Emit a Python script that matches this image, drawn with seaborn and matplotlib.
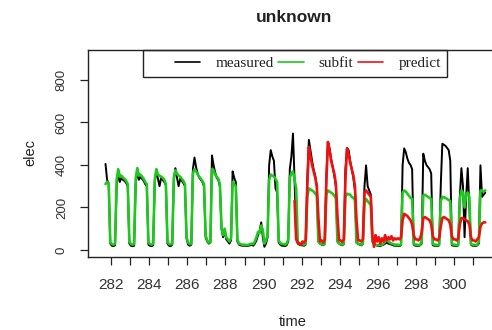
import numpy as np
import pandas as pd
import matplotlib
matplotlib.use("Agg")
import matplotlib.pyplot as plt
from matplotlib.patches import Rectangle
from matplotlib.lines import Line2D
import seaborn as sns

# ---- data: 2-hourly samples (12 per day) ----
slots_per_day = 12
meas_start = (281, 8)      # (day, slot) of first measured/subfit sample
pred_start = (291, 7)      # (day, slot) of first predict sample

measured = [
    405, 330, 310, 30,                                         # 281
    20, 18, 22, 300, 365, 320, 340, 330, 325, 315, 300, 30,    # 282
    20, 18, 20, 310, 380, 330, 345, 335, 325, 310, 300, 25,    # 283
    20, 18, 22, 320, 375, 335, 300, 340, 330, 320, 305, 30,    # 284
    20, 18, 25, 330, 385, 340, 300, 335, 325, 315, 300, 55,    # 285
    25, 20, 25, 380, 435, 390, 360, 340, 330, 320, 300, 60,    # 286
    40, 30, 35, 445, 400, 365, 340, 330, 300, 100, 60, 90,     # 287
    50, 40, 30, 45, 370, 340, 320, 40, 25, 22, 20, 20,         # 288
    20, 18, 20, 22, 25, 20, 30, 45, 70, 90, 130, 60,           # 289
    15, 30, 60, 400, 470, 440, 420, 290, 270, 35, 25, 20,      # 290
    20, 18, 22, 40, 380, 440, 548, 330, 60, 30, 25, 22,        # 291
    22, 20, 25, 330, 518, 470, 420, 380, 350, 300, 40, 30,     # 292
    25, 22, 28, 350, 508, 480, 430, 390, 350, 300, 40, 30,     # 293
    25, 22, 28, 380, 480, 470, 420, 380, 340, 280, 35, 28,     # 294
    25, 22, 28, 300, 398, 300, 280, 260, 40, 30, 25, 20,       # 295
    20, 18, 22, 25, 30, 35, 30, 28, 25, 22, 20, 20,            # 296
    20, 18, 22, 400, 478, 460, 430, 410, 400, 380, 25, 20,     # 297
    20, 18, 22, 30, 453, 420, 400, 390, 380, 360, 22, 20,      # 298
    20, 18, 22, 300, 500, 495, 490, 480, 470, 420, 22, 20,     # 299
    20, 18, 22, 250, 385, 300, 60, 250, 385, 200, 25, 20,      # 300
    20, 18, 22, 30, 398, 250, 260, 270,                        # 301
]

subfit = [
    310, 320, 315, 35,                                         # 281
    28, 25, 30, 330, 380, 345, 350, 340, 335, 325, 310, 40,    # 282
    28, 25, 28, 335, 385, 350, 355, 345, 335, 320, 310, 35,    # 283
    28, 25, 30, 330, 380, 355, 350, 345, 340, 330, 310, 40,    # 284
    28, 26, 30, 340, 375, 360, 350, 345, 335, 325, 310, 60,    # 285
    35, 28, 30, 360, 380, 370, 355, 345, 335, 325, 310, 70,    # 286
    45, 35, 35, 380, 375, 355, 345, 335, 310, 105, 70, 100,    # 287
    60, 50, 40, 55, 320, 310, 300, 50, 30, 28, 25, 25,         # 288
    25, 22, 25, 28, 30, 28, 40, 60, 85, 80, 115, 95,           # 289
    30, 45, 70, 330, 355, 350, 345, 335, 320, 45, 32, 28,      # 290
    28, 25, 30, 50, 340, 360, 370, 330, 290, 40, 30, 28,       # 291
    28, 25, 30, 250, 290, 285, 280, 275, 265, 255, 40, 30,     # 292
    28, 25, 30, 260, 280, 275, 270, 265, 255, 245, 40, 30,     # 293
    28, 25, 30, 250, 265, 262, 260, 250, 245, 235, 35, 30,     # 294
    28, 25, 30, 220, 240, 230, 220, 210, 40, 30, 25, 22,       # 295
    25, 22, 25, 30, 40, 45, 40, 35, 30, 28, 25, 25,            # 296
    25, 22, 25, 270, 280, 275, 265, 255, 245, 240, 30, 25,     # 297
    25, 22, 25, 40, 256, 260, 255, 250, 245, 240, 28, 25,      # 298
    25, 22, 25, 230, 250, 248, 245, 240, 235, 230, 28, 25,     # 299
    25, 22, 25, 240, 280, 270, 200, 260, 270, 250, 28, 25,     # 300
    25, 22, 25, 40, 280, 280, 275, 280,                        # 301
]

predict = [
    232, 50, 35, 30, 25,                                       # 291
    40, 35, 45, 300, 485, 440, 400, 370, 340, 300, 150, 40,    # 292
    45, 35, 50, 320, 508, 470, 420, 390, 360, 310, 160, 45,    # 293
    45, 38, 50, 330, 477, 450, 410, 380, 350, 300, 140, 45,    # 294
    45, 40, 50, 270, 280, 270, 260, 250, 60, 15, 70, 40,       # 295
    60, 30, 55, 40, 70, 45, 60, 50, 65, 45, 55, 50,            # 296
    55, 50, 60, 140, 170, 165, 160, 150, 140, 120, 70, 50,     # 297
    50, 45, 55, 80, 150, 155, 150, 145, 140, 120, 65, 50,      # 298
    50, 45, 55, 110, 150, 155, 150, 145, 140, 120, 65, 50,     # 299
    50, 45, 55, 120, 150, 150, 145, 140, 135, 120, 60, 45,     # 300
    45, 40, 50, 60, 110, 125, 130, 130,                        # 301
]

x_ticks = list(range(282, 302))
x_ticklabels = [str(v) if v % 2 == 0 else "" for v in x_ticks]
y_ticks = [0, 200, 400, 600, 800]
series_names = ["measured", "subfit", "predict"]
series_colors = ["#000000", "#1ec81e", "#f01010"]


def sample_times(start, n):
    day, slot = start
    idx = slot + np.arange(n)
    return day + (idx + 0.5) / slots_per_day


df_meas = pd.DataFrame({"time": sample_times(meas_start, len(measured)), "elec": measured})
df_sub = pd.DataFrame({"time": sample_times(meas_start, len(subfit)), "elec": subfit})
df_pred = pd.DataFrame({"time": sample_times(pred_start, len(predict)), "elec": predict})

sns.set_style("white")
plt.rcParams["font.family"] = ["Liberation Sans", "DejaVu Sans"]

W, H = 492, 330
fig = plt.figure(figsize=(W / 100, H / 100), dpi=100)
L, R, T, B = 88, 500, 50, 257
ax = fig.add_axes([L / W, 1 - B / H, (R - L) / W, (B - T) / H])

sns.lineplot(data=df_meas, x="time", y="elec", color=series_colors[0], lw=1.4,
             estimator=None, sort=False, ax=ax)
sns.lineplot(data=df_sub, x="time", y="elec", color=series_colors[1], lw=1.9,
             estimator=None, sort=False, ax=ax)
sns.lineplot(data=df_pred, x="time", y="elec", color=series_colors[2], lw=1.9,
             estimator=None, sort=False, ax=ax)

ax.set_xlim(280.79, 302.40)
ax.set_ylim(-33, 941)
ax.set_xticks(x_ticks)
ax.set_xticklabels(x_ticklabels)
ax.set_yticks(y_ticks)
ax.set_yticklabels([str(v) for v in y_ticks])

for s in ax.spines.values():
    s.set_visible(True)
    s.set_color("#222222")
    s.set_linewidth(1.0)

ax.tick_params(axis="x", direction="out", length=5.5, width=0.9, color="#222222",
               pad=9.5, labelsize=11, labelcolor="#333333", bottom=True)
ax.tick_params(axis="y", direction="out", length=5.5, width=0.9, color="#222222",
               pad=9, labelsize=9.5, labelcolor="#333333", left=True)
for lab in ax.get_yticklabels():
    lab.set_rotation(90)
    lab.set_va("center")
    lab.set_ha("right")

ax.set_xlabel("time", fontsize=10.5, color="#222222")
ax.set_ylabel("elec", fontsize=10.5, color="#222222")
ax.xaxis.set_label_coords((293 - L) / (R - L), (B - 322) / (B - T))
ax.xaxis.label.set_va("center")
ax.yaxis.set_label_coords((30 - L) / (R - L), (B - 153) / (B - T))
ax.yaxis.label.set_va("center")

ax.set_title("unknown", fontsize=12.5, fontweight="bold", color="#222222",
             y=(B - 17) / (B - T), va="center", pad=0)

# legend (R-style horizontal legend with box)
handles = [Line2D([], [], color=c, lw=1.2) for c in series_colors]
leg = ax.legend(handles, series_names, ncol=3, frameon=False,
                loc="center left",
                bbox_to_anchor=((175 - L) / (R - L), (B - 63) / (B - T)),
                prop={"family": ["Liberation Serif", "DejaVu Serif"], "size": 11},
                handlelength=1.65, handletextpad=1.0, columnspacing=0.3,
                borderaxespad=0, borderpad=0)
for t in leg.get_texts():
    t.set_color("#222222")
box_l, box_r, box_b = 143, 447, 77
ax.add_patch(Rectangle(((box_l - L) / (R - L), (B - box_b) / (B - T)),
                       (box_r - box_l) / (R - L), (box_b - T) / (B - T),
                       transform=ax.transAxes, fill=False, edgecolor="#222222",
                       lw=1.0, clip_on=False, zorder=5))

fig.savefig("out.png", dpi=100)
